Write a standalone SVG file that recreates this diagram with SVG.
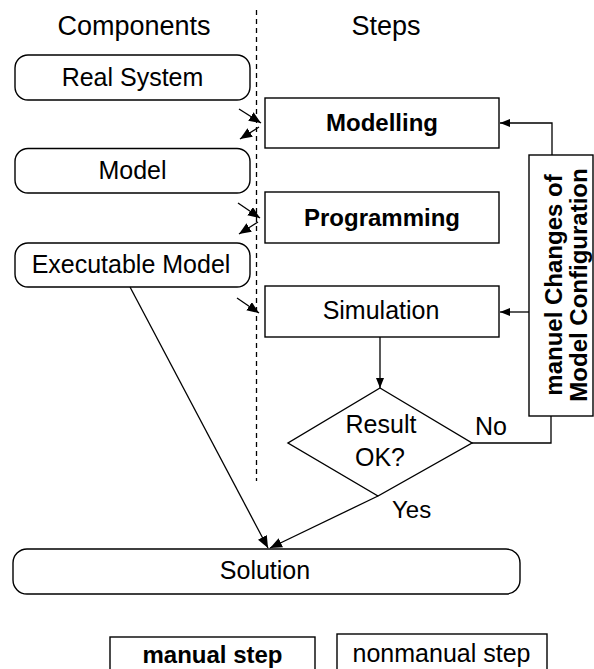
<svg xmlns="http://www.w3.org/2000/svg" width="594" height="669" viewBox="0 0 594 669">
<style>
text{font-family:"Liberation Sans",Arial,sans-serif;fill:#000}
.t{font-size:25px;text-anchor:middle}
.b{font-size:24px;font-weight:bold;text-anchor:middle}
.h{font-size:27px;text-anchor:middle}
.box{fill:#fff;stroke:#000;stroke-width:1.4}
.ln{fill:none;stroke:#000;stroke-width:1.3}
</style>
<defs>
<marker id="ah" viewBox="0 0 10 8" refX="10" refY="4" markerWidth="10" markerHeight="8" markerUnits="userSpaceOnUse" orient="auto">
<path d="M0,0 L10,4 L0,8 z" fill="#000"/>
</marker>
<marker id="ah2" viewBox="0 0 12 10" refX="12" refY="5" markerWidth="12" markerHeight="10" markerUnits="userSpaceOnUse" orient="auto">
<path d="M0,0 L12,5 L0,10 z" fill="#000"/>
</marker>
</defs>
<rect width="594" height="669" fill="#fff"/>
<text class="h" x="134" y="35">Components</text>
<text class="h" x="386" y="35">Steps</text>
<line x1="256.5" y1="10" x2="256.5" y2="481" stroke="#000" stroke-width="1.3" stroke-dasharray="5,4"/>

<g id="real-system"><rect class="box" x="15" y="55" width="235" height="45" rx="13"/><text class="t" x="132.5" y="86">Real System</text></g>
<g id="model"><rect class="box" x="15" y="148.5" width="235" height="44.5" rx="13"/><text class="t" x="132.5" y="179">Model</text></g>
<g id="executable-model"><rect class="box" x="15" y="243" width="235" height="44" rx="13"/><text class="t" x="131" y="273">Executable Model</text></g>

<g id="modelling"><rect class="box" x="265" y="98" width="234" height="50"/><text class="b" x="382" y="131">Modelling</text></g>
<g id="programming"><rect class="box" x="265" y="192" width="234" height="51"/><text class="b" x="382" y="226">Programming</text></g>
<g id="simulation"><rect class="box" x="265" y="286" width="234" height="51"/><text class="t" x="381" y="319">Simulation</text></g>

<g id="result-ok"><path class="box" d="M380,388 L472,443 L378,496 L288,443 Z"/><text class="t" x="381" y="433">Result</text><text class="t" x="380" y="466">OK?</text></g>

<g id="manual-changes"><rect class="box" x="529" y="155" width="64" height="261"/>
<text class="b" transform="translate(562,285) rotate(-90)">manuel Changes of</text>
<text class="b" transform="translate(587,285) rotate(-90)">Model Configuration</text></g>

<g id="solution"><rect class="box" x="13" y="549" width="507" height="45" rx="14"/><text class="t" x="265" y="579">Solution</text></g>

<g id="legend-manual"><rect class="box" x="110" y="637" width="205" height="40"/><text class="b" x="212.5" y="663">manual step</text></g>
<g id="legend-nonmanual"><rect class="box" x="337" y="634" width="210" height="43"/><text class="t" x="441.5" y="662">nonmanual step</text></g>

<g id="connectors">
<line class="ln" x1="239" y1="109" x2="261" y2="123" marker-end="url(#ah2)"/>
<line class="ln" x1="259" y1="127" x2="240" y2="139" marker-end="url(#ah2)"/>
<line class="ln" x1="238" y1="203" x2="260" y2="218" marker-end="url(#ah2)"/>
<line class="ln" x1="258" y1="222" x2="239" y2="234" marker-end="url(#ah2)"/>
<line class="ln" x1="237" y1="298" x2="259" y2="313" marker-end="url(#ah2)"/>
<polyline class="ln" points="552,155 552,123 500,123" marker-end="url(#ah)"/>
<line class="ln" x1="529" y1="312" x2="500" y2="312" marker-end="url(#ah)"/>
<polyline class="ln" points="472,443 551,443 551,416"/>
<line class="ln" x1="380" y1="337" x2="380" y2="388" marker-end="url(#ah)"/>
<line class="ln" x1="130" y1="287" x2="268" y2="548" marker-end="url(#ah2)"/>
<line class="ln" x1="378" y1="496" x2="270" y2="548" marker-end="url(#ah2)"/>
<text x="475" y="435" style="font-size:25px">No</text>
<text x="392" y="518" style="font-size:24px">Yes</text>
</g>
</svg>
